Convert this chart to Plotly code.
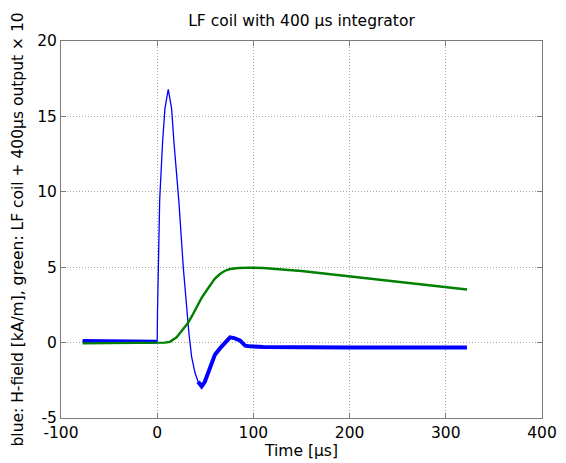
import numpy as np
import plotly.graph_objects as go

# ---- data ----
blue_t = [-77.5, -60, -40, -20, -0.5, 0, 0.3, 1.0, 2.6, 5.6, 8.0, 11.5, 15.0, 17.4, 20.2, 22.6, 27.1, 30.6, 33.0, 35.8, 39.3, 42.5, 46.2, 49.5, 53.1, 57, 60, 65, 70, 75.7, 80, 86, 91.5, 96.5, 110, 150, 200, 250, 300, 322]
blue_v = [0.1, 0.1, 0.05, 0.1, 0.05, 0.1, 2.0, 5.0, 9.5, 13.3, 15.5, 16.8, 15.5, 13.3, 11.1, 9.3, 5.0, 2.15, 0.6, -0.94, -2.0, -2.6, -2.9, -2.6, -2.0, -1.3, -0.8, -0.4, 0.0, 0.35, 0.3, 0.15, -0.2, -0.25, -0.3, -0.33, -0.33, -0.33, -0.33, -0.33]

green_t = [-77.5, -40, 0, 8, 13.2, 20.2, 27, 32, 36.5, 41, 46, 51.5, 55.5, 60, 65.3, 70, 75.7, 85, 96.5, 110, 150, 200, 250, 300, 322]
green_v = [-0.05, -0.05, -0.03, 0.0, 0.05, 0.35, 0.9, 1.3, 1.8, 2.37, 2.95, 3.47, 3.85, 4.24, 4.55, 4.75, 4.88, 4.95, 4.97, 4.95, 4.75, 4.4, 4.05, 3.67, 3.52]

x_ticks = [-100, 0, 100, 200, 300, 400]
y_ticks = [-5, 0, 5, 10, 15, 20]

title = "LF coil with 400 \u03bcs integrator"
x_title = "Time [\u03bcs]"
y_title = "blue: H-field [kA/m], green: LF coil + 400\u03bcs output \u00d7 10"

BLUE = "#0000ff"
GREEN = "#008000"
AXC = "#7a7a7a"
FONT = "DejaVu Sans, Liberation Sans, Arial, sans-serif"
FS = 15.5

# page body has an 8px margin; size the figure so the plot lands where the reference has it
W, H = 558, 455
ML, MT, MR, MB = 53, 33, 24, 45

bt = np.array(blue_t)
bv = np.array(blue_v)
pre = bt <= -0.5
post = bt >= 41

fig = go.Figure()
fig.add_trace(go.Scatter(x=bt, y=bv, mode="lines", line=dict(color=BLUE, width=1.3), showlegend=False))
fig.add_trace(go.Scatter(x=bt[pre], y=bv[pre], mode="lines", line=dict(color=BLUE, width=4), showlegend=False))
fig.add_trace(go.Scatter(x=bt[post], y=bv[post], mode="lines", line=dict(color=BLUE, width=4), showlegend=False))
fig.add_trace(go.Scatter(x=green_t, y=green_v, mode="lines", line=dict(color=GREEN, width=2.4), showlegend=False))

axis_common = dict(
    showline=True, linecolor=AXC, linewidth=1, mirror="ticks",
    ticks="inside", ticklen=5, tickcolor=AXC,
    showgrid=True, gridcolor="#a8a8a8", griddash="1px,2px", gridwidth=1,
    zeroline=False, automargin=False,
    tickfont=dict(family=FONT, size=FS, color="black"),
)

plot_w = W - ML - MR

fig.update_layout(
    width=W, height=H,
    margin=dict(l=ML, r=MR, t=MT, b=MB),
    paper_bgcolor="white", plot_bgcolor="white",
    font=dict(family=FONT, size=FS, color="black"),
    title=dict(text=title, x=(ML + plot_w / 2) / W, xanchor="center", xref="container",
               y=1 - 13 / H, yanchor="middle", yref="container",
               font=dict(family=FONT, size=FS, color="black")),
    xaxis=dict(range=[-100, 400], tickvals=x_ticks, ticktext=[str(v) for v in x_ticks],
               title=dict(text=x_title, standoff=0, font=dict(family=FONT, size=FS)), **axis_common),
    yaxis=dict(range=[-5, 20], tickvals=y_ticks, ticktext=[str(v) for v in y_ticks],
               ticklabelstandoff=0, **axis_common),
    annotations=[dict(text=y_title, textangle=-90, xref="paper", yref="paper",
                      x=-44 / plot_w, y=0.5, xanchor="center", yanchor="middle",
                      showarrow=False, font=dict(family=FONT, size=FS, color="black"))],
)

fig.write_html("out.html")
